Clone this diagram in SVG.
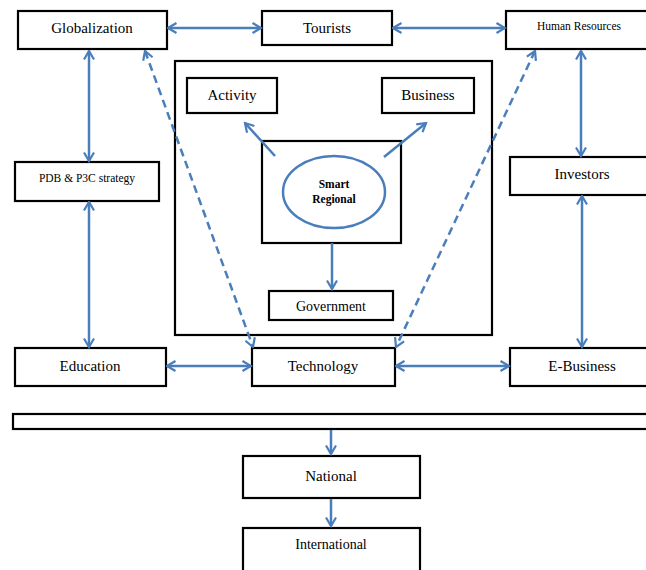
<svg xmlns="http://www.w3.org/2000/svg" width="646" height="570" viewBox="0 0 646 570">
<style>
.box{fill:#fff;stroke:#000;stroke-width:2.2}
.t{font-family:"Liberation Serif","Times New Roman",serif;fill:#000;text-anchor:middle}
.c{fill:none;stroke:#4a7ebb;stroke-width:2.5}
.d{stroke-dasharray:8,5}
</style>
<defs>
<marker id="ah" viewBox="0 0 12 12" refX="10.5" refY="6" markerWidth="12" markerHeight="12" markerUnits="userSpaceOnUse" orient="auto-start-reverse">
<path d="M2,1 L10.5,6 L2,11" fill="none" stroke="#4a7ebb" stroke-width="2.2"/>
</marker>
</defs>
<rect width="646" height="570" fill="#fff"/>
<g id="outer"><rect class="box" x="175" y="61" width="317" height="274"/></g>
<g id="globalization"><rect class="box" x="18" y="11" width="149" height="38"/><text class="t" x="92" y="33" font-size="15">Globalization</text></g>
<g id="tourists"><rect class="box" x="262" y="11" width="130" height="34"/><text class="t" x="327" y="33" font-size="15">Tourists</text></g>
<g id="human-resources"><rect class="box" x="506" y="11" width="146" height="38"/><text class="t" x="579" y="30" font-size="11.5">Human Resources</text></g>
<g id="activity"><rect class="box" x="187" y="78" width="90" height="35"/><text class="t" x="232" y="100" font-size="15">Activity</text></g>
<g id="business"><rect class="box" x="382" y="78" width="92" height="35"/><text class="t" x="428" y="100" font-size="15">Business</text></g>
<g id="pdb"><rect class="box" x="15" y="162" width="144" height="39"/><text class="t" x="87" y="182" font-size="11.5">PDB &amp; P3C strategy</text></g>
<g id="investors"><rect class="box" x="510" y="157" width="142" height="38"/><text class="t" x="582" y="179" font-size="15">Investors</text></g>
<g id="smart-regional"><rect class="box" x="262" y="141" width="139" height="102"/><ellipse cx="334" cy="192" rx="51" ry="36" fill="#fff" stroke="#4a7ebb" stroke-width="2.5"/><text class="t" x="334" y="188" font-size="11.5" font-weight="bold">Smart</text><text class="t" x="334" y="203" font-size="11.5" font-weight="bold">Regional</text></g>
<g id="government"><rect class="box" x="269" y="291" width="124" height="29"/><text class="t" x="331" y="311" font-size="14">Government</text></g>
<g id="education"><rect class="box" x="15" y="348" width="151" height="38"/><text class="t" x="90" y="371" font-size="15">Education</text></g>
<g id="technology"><rect class="box" x="252" y="348" width="143" height="38"/><text class="t" x="323" y="371" font-size="15">Technology</text></g>
<g id="e-business"><rect class="box" x="510" y="348" width="142" height="38"/><text class="t" x="582" y="371" font-size="15">E-Business</text></g>
<g id="bar"><rect class="box" x="13" y="414" width="640" height="15"/></g>
<g id="national"><rect class="box" x="243" y="456" width="177" height="42"/><text class="t" x="331" y="481" font-size="15">National</text></g>
<g id="international"><rect class="box" x="243" y="528" width="177" height="50"/><text class="t" x="331" y="549" font-size="14">International</text></g>
<g id="connectors">
<line class="c" x1="168" y1="28" x2="261" y2="28" marker-start="url(#ah)" marker-end="url(#ah)"/>
<line class="c" x1="393" y1="28" x2="505" y2="28" marker-start="url(#ah)" marker-end="url(#ah)"/>
<line class="c" x1="89" y1="51" x2="89" y2="161" marker-start="url(#ah)" marker-end="url(#ah)"/>
<line class="c" x1="89" y1="202" x2="89" y2="347" marker-start="url(#ah)" marker-end="url(#ah)"/>
<line class="c" x1="581" y1="51" x2="581" y2="156" marker-start="url(#ah)" marker-end="url(#ah)"/>
<line class="c" x1="582" y1="196" x2="582" y2="347" marker-start="url(#ah)" marker-end="url(#ah)"/>
<line class="c" x1="167" y1="366" x2="251" y2="366" marker-start="url(#ah)" marker-end="url(#ah)"/>
<line class="c" x1="396" y1="366" x2="509" y2="366" marker-start="url(#ah)" marker-end="url(#ah)"/>
<line class="c d" x1="145" y1="51" x2="253" y2="347" marker-start="url(#ah)" marker-end="url(#ah)"/>
<line class="c d" x1="535" y1="51" x2="396" y2="347" marker-start="url(#ah)" marker-end="url(#ah)"/>
<line class="c" x1="275" y1="156" x2="245" y2="123" marker-end="url(#ah)"/>
<line class="c" x1="384" y1="157" x2="426" y2="123" marker-end="url(#ah)"/>
<line class="c" x1="332" y1="243" x2="332" y2="289" marker-end="url(#ah)"/>
<line class="c" x1="331" y1="430" x2="331" y2="454" marker-end="url(#ah)"/>
<line class="c" x1="331" y1="499" x2="331" y2="526" marker-end="url(#ah)"/>
</g>
</svg>
